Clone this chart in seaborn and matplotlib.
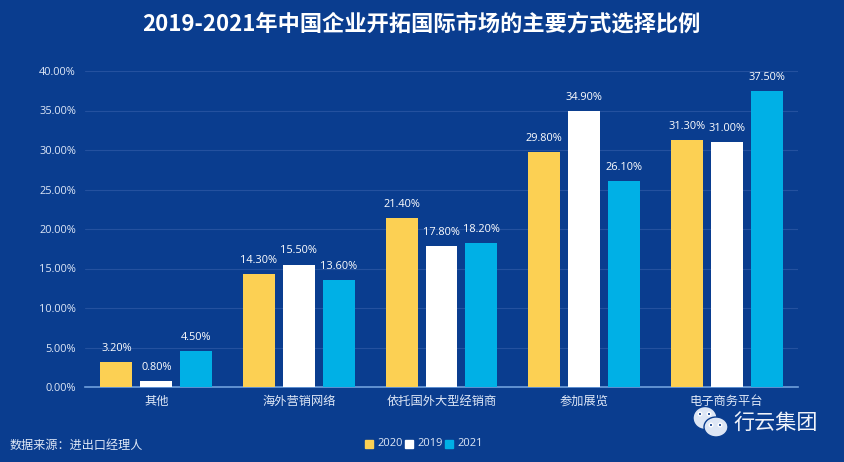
import pandas as pd
import seaborn as sns
import matplotlib.pyplot as plt
from matplotlib.patches import Ellipse

categories = ['其他', '海外营销网络', '依托国外大型经销商', '参加展览', '电子商务平台']
vals_2020 = [3.2, 14.3, 21.4, 29.8, 31.3]
vals_2019 = [0.8, 15.5, 17.8, 34.9, 31.0]
vals_2021 = [4.5, 13.6, 18.2, 26.1, 37.5]
years = ['2020', '2019', '2021']
yticks = [0, 5, 10, 15, 20, 25, 30, 35, 40]

bg = '#0a3d8f'
colors = ['#fcd053', '#ffffff', '#00b0e6']
txt = '#dfe8f7'

data = pd.DataFrame({
    'cat': categories * 3,
    'year': [y for y in years for _ in categories],
    'val': vals_2020 + vals_2019 + vals_2021,
})

sns.set_theme(style='white')
plt.rcParams['font.family'] = ['Noto Sans CJK SC', 'DejaVu Sans']

fig = plt.figure(figsize=(8.45, 4.62), dpi=100, facecolor=bg)
ax = fig.add_axes([85 / 845, 1 - 387 / 462, 713 / 845, 316 / 462], facecolor=bg)

sns.barplot(data=data, x='cat', y='val', hue='year', palette=colors, ax=ax,
            width=0.84, gap=0.2, saturation=1, legend=False, linewidth=0, zorder=3)

# value labels
for cont in ax.containers:
    ax.bar_label(cont, fmt='%.2f%%', padding=5.8, color='white', fontsize=7.9,
                 family=['Open Sans', 'DejaVu Sans'])

ax.set_xlim(-0.5, 4.5)
ax.set_ylim(0, 40)
ax.set_yticks(yticks)
ax.set_yticklabels([f'{t:.2f}%' for t in yticks], color=txt, fontsize=7.9,
                   family=['Open Sans', 'DejaVu Sans'])
ax.tick_params(axis='y', length=0, pad=6.5)
ax.tick_params(axis='x', length=0, pad=5.5, labelsize=8.8, colors=txt)
ax.set_xlabel('')
ax.set_ylabel('')
ax.grid(axis='y', color='#24519f', lw=0.8, zorder=0)
ax.set_axisbelow(True)
sns.despine(ax=ax, left=True)
ax.spines['bottom'].set_color('#6fa0dc')
ax.spines['bottom'].set_linewidth(1.2)

fig.text(421 / 845, 1 - 24 / 462, '2019-2021年中国企业开拓国际市场的主要方式选择比例',
         color='white', fontsize=16, fontweight='bold', ha='center', va='center',
         family=['Noto Sans CJK SC', 'DejaVu Sans'])
fig.text(10 / 845, 1 - 445 / 462, '数据来源：进出口经理人', color=txt, fontsize=8.7,
         ha='left', va='center')

# legend
x_sq = [365, 405, 445]
x_txt = [377, 417, 457]
for sx, tx, c, y in zip(x_sq, x_txt, colors, years):
    fig.patches.append(plt.Rectangle((sx / 845, 1 - 448 / 462), 8 / 845, 8 / 462, color=c,
                                     transform=fig.transFigure))
    fig.text(tx / 845, 1 - 444 / 462, y, color=txt, fontsize=8, ha='left', va='center',
             family=['Open Sans', 'DejaVu Sans'])

# watermark
for (cx, cy, w, h) in [(705, 418, 24, 23), (716, 427, 24, 20)]:
    fig.patches.append(Ellipse((cx / 845, 1 - cy / 462), w / 845, h / 462, fc='#dde6f5',
                               ec=bg, lw=1, transform=fig.transFigure))
for (cx, cy) in [(700, 414), (709, 414), (711, 425), (720, 425)]:
    fig.patches.append(Ellipse((cx / 845, 1 - cy / 462), 3.5 / 845, 3.5 / 462, fc='#12408f',
                               transform=fig.transFigure))
fig.text(733 / 845, 1 - 423 / 462, '行云集团', color='#f0f3fa', fontsize=15.2, ha='left', va='center')

fig.savefig('out.png', dpi=100, facecolor=bg)
